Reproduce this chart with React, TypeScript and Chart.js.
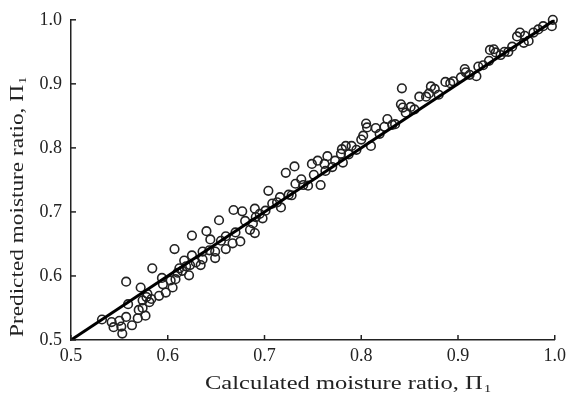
import React, { useEffect, useRef } from "react";
import { Chart, registerables } from "chart.js";

Chart.register(...registerables);

// Calculated moisture ratio (x) and predicted moisture ratio (y)
const calculated = [
  0.532, 0.542, 0.544, 0.550, 0.552, 0.553, 0.557, 0.557, 0.559, 0.563,
  0.569, 0.570, 0.572, 0.577, 0.574, 0.574, 0.578, 0.579, 0.581, 0.584,
  0.583, 0.591, 0.594, 0.595, 0.598, 0.603, 0.605, 0.607, 0.608, 0.610,
  0.615, 0.617, 0.619, 0.622, 0.623, 0.625, 0.625, 0.629, 0.634, 0.636,
  0.636, 0.640, 0.643, 0.644, 0.649, 0.649, 0.653, 0.660, 0.660, 0.667,
  0.670, 0.668, 0.675, 0.677, 0.680, 0.685, 0.690, 0.688, 0.690, 0.691,
  0.698, 0.701, 0.704, 0.708, 0.713, 0.716, 0.717, 0.722, 0.728, 0.732,
  0.731, 0.738, 0.740, 0.745, 0.749, 0.751, 0.755, 0.758, 0.762, 0.765,
  0.763, 0.773, 0.779, 0.781, 0.784, 0.780, 0.787, 0.790, 0.800, 0.802,
  0.805, 0.806, 0.810, 0.815, 0.819, 0.824, 0.827, 0.832, 0.842, 0.841,
  0.843, 0.846, 0.851, 0.860, 0.867, 0.870, 0.872, 0.876, 0.887, 0.892,
  0.895, 0.903, 0.907, 0.908, 0.919, 0.921, 0.926, 0.932, 0.933, 0.937,
  0.939, 0.948, 0.952, 0.961, 0.964, 0.968, 0.969, 0.973, 0.978, 0.983,
  0.988, 0.997, 0.998,
  0.612, 0.655, 0.695, 0.725, 0.770, 0.795, 0.835, 0.855, 0.880, 0.912,
  0.944, 0.956,
];
const predicted = [
  0.532, 0.528, 0.520, 0.530, 0.521, 0.510, 0.536, 0.591, 0.556, 0.523,
  0.534, 0.547, 0.582, 0.538, 0.562, 0.550, 0.567, 0.572, 0.559, 0.612,
  0.564, 0.569, 0.597, 0.587, 0.574, 0.593, 0.582, 0.642, 0.595, 0.605,
  0.608, 0.624, 0.615, 0.601, 0.617, 0.632, 0.663, 0.621, 0.617, 0.638,
  0.626, 0.670, 0.640, 0.657, 0.628, 0.638, 0.687, 0.642, 0.662, 0.651,
  0.668, 0.703, 0.654, 0.701, 0.686, 0.672, 0.667, 0.682, 0.705, 0.692,
  0.690, 0.702, 0.733, 0.713, 0.715, 0.723, 0.707, 0.761, 0.726, 0.744,
  0.771, 0.751, 0.742, 0.741, 0.775, 0.758, 0.780, 0.742, 0.775, 0.787,
  0.764, 0.780, 0.791, 0.777, 0.803, 0.798, 0.790, 0.803, 0.813, 0.819,
  0.838, 0.832, 0.803, 0.831, 0.822, 0.833, 0.845, 0.836, 0.893, 0.868,
  0.863, 0.855, 0.864, 0.880, 0.880, 0.885, 0.896, 0.892, 0.903, 0.901,
  0.904, 0.910, 0.923, 0.918, 0.912, 0.927, 0.929, 0.936, 0.953, 0.954,
  0.949, 0.950, 0.950, 0.974, 0.980, 0.964, 0.975, 0.967, 0.980, 0.985,
  0.990, 0.990, 1.000,
  0.612, 0.655, 0.697, 0.727, 0.770, 0.797, 0.837, 0.860, 0.883, 0.914,
  0.945, 0.958,
];

// 1:1 reference line
const lineX = [0.5, 1.0];
const lineY = [0.5, 1.0];

const axisMin = 0.5;
const axisMax = 1.0;
const tickStep = 0.1;

const xTitle = "Calculated moisture ratio, Π";
const yTitle = "Predicted moisture ratio, Π";
const titleSub = "1";

const FONT = "'Liberation Serif', 'Times New Roman', serif";
const INK = "#222";

const decorPlugin = {
  id: "decor",
  afterDraw(chart: any) {
    const ctx = chart.ctx as CanvasRenderingContext2D;
    const area = chart.chartArea;
    const xs = chart.scales.x;
    const ys = chart.scales.y;
    ctx.save();
    // inward tick marks
    ctx.strokeStyle = INK;
    ctx.lineWidth = 1.5;
    const tl = 5;
    xs.ticks.forEach((t: any) => {
      const px = xs.getPixelForValue(t.value);
      ctx.beginPath();
      ctx.moveTo(px, area.bottom);
      ctx.lineTo(px, area.bottom - tl);
      ctx.stroke();
    });
    ys.ticks.forEach((t: any) => {
      const py = ys.getPixelForValue(t.value);
      ctx.beginPath();
      ctx.moveTo(area.left, py);
      ctx.lineTo(area.left + tl, py);
      ctx.stroke();
    });
    // axis titles with subscript, horizontally stretched like the reference
    ctx.fillStyle = INK;
    ctx.textAlign = "left";
    ctx.textBaseline = "alphabetic";
    const drawTitle = (text: string, x: number, y: number, targetW: number) => {
      ctx.font = `19px ${FONT}`;
      const w = ctx.measureText(text).width;
      ctx.font = `11px ${FONT}`;
      const ws = ctx.measureText(titleSub).width;
      const total = w + 1 + ws;
      const sx = targetW / total;
      ctx.save();
      ctx.translate(x, y);
      ctx.scale(sx, 1);
      ctx.font = `19px ${FONT}`;
      ctx.fillText(text, 0, 0);
      ctx.font = `11px ${FONT}`;
      ctx.fillText(titleSub, w + 1, 3);
      ctx.restore();
    };
    drawTitle(xTitle, area.left + 134, area.bottom + 49, 286);
    ctx.save();
    ctx.translate(area.left - 48, area.bottom - 3);
    ctx.rotate(-Math.PI / 2);
    drawTitle(yTitle, 0, 0, 260);
    ctx.restore();
    ctx.restore();
  },
};

export default function App() {
  const ref = useRef<HTMLCanvasElement | null>(null);
  useEffect(() => {
    document.body.style.margin = "0";
    const canvas = ref.current;
    if (!canvas) return;
    const points = calculated.map((c, i) => ({ x: c, y: predicted[i] }));
    const line = lineX.map((v, i) => ({ x: v, y: lineY[i] }));
    const tickFont = { family: FONT, size: 18 };
    const chart = new Chart(canvas, {
      type: "scatter",
      data: {
        datasets: [
          {
            type: "line",
            data: line,
            borderColor: "#000",
            borderWidth: 3,
            pointRadius: 0,
            fill: false,
            order: 0,
          } as any,
          {
            type: "scatter",
            data: points,
            pointStyle: "circle",
            pointRadius: 4.3,
            borderWidth: 1.6,
            borderColor: INK,
            backgroundColor: "rgba(0,0,0,0)",
            clip: false,
            order: 1,
          } as any,
        ],
      },
      options: {
        animation: false,
        responsive: false,
        layout: { padding: { left: 0, top: 15, right: 13, bottom: 0 } },
        plugins: { legend: { display: false }, tooltip: { enabled: false } },
        scales: {
          x: {
            type: "linear",
            min: axisMin,
            max: axisMax,
            ticks: {
              stepSize: tickStep,
              color: INK,
              font: tickFont,
              padding: 5,
              maxRotation: 0,
              callback: (v: any) => Number(v).toFixed(1),
            },
            grid: { display: false, drawTicks: false },
            border: { display: true, color: INK, width: 1.5 },
            afterFit: (s: any) => {
              s.height = 54;
            },
          },
          y: {
            type: "linear",
            min: axisMin,
            max: axisMax,
            ticks: {
              stepSize: tickStep,
              color: INK,
              font: tickFont,
              padding: 9,
              callback: (v: any) => Number(v).toFixed(1),
            },
            grid: { display: false, drawTicks: false },
            border: { display: true, color: INK, width: 1.5 },
            afterFit: (s: any) => {
              s.width = 71;
            },
          },
        },
      },
      plugins: [decorPlugin],
    });
    return () => chart.destroy();
  }, []);
  return (
    <div style={{ width: 571, height: 394, background: "#fff" }}>
      <canvas ref={ref} width={571} height={394} />
    </div>
  );
}
